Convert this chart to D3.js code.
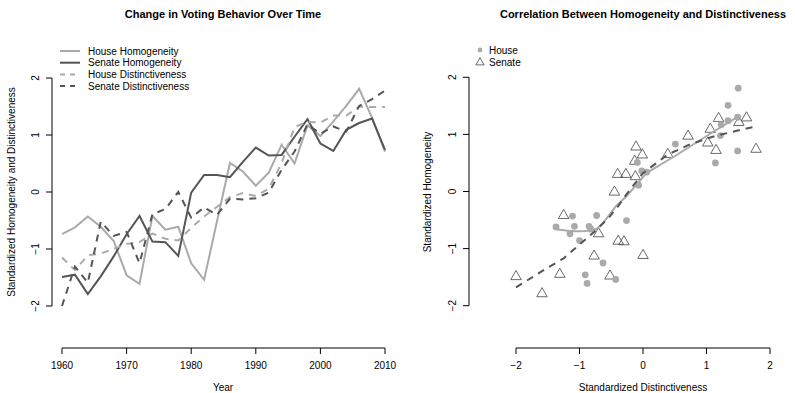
<!DOCTYPE html>
<html>
<head>
<meta charset="utf-8">
<script src="https://cdn.jsdelivr.net/npm/d3@7"></script>
<style>
body { margin: 0; background: #fff; }
svg { font-family: "Liberation Sans", Arial, Helvetica, sans-serif; }
</style>
</head>
<body>
<svg id="chart" width="795" height="393"></svg>
<script>
// standardized series, one value per election year
var years = [1960, 1962, 1964, 1966, 1968, 1970, 1972, 1974, 1976, 1978, 1980, 1982, 1984,
             1986, 1988, 1990, 1992, 1994, 1996, 1998, 2000, 2002, 2004, 2006, 2008, 2010];

var houseHomog = [-0.74, -0.62, -0.43, -0.61, -0.86, -1.46, -1.61, -0.42, -0.66, -0.61, -1.25, -1.54, -0.51,
                  0.51, 0.36, 0.11, 0.34, 0.83, 0.50, 1.17, 0.98, 1.24, 1.51, 1.81, 1.30, 0.71];
var senateHomog = [-1.49, -1.45, -1.79, -1.48, -1.13, -0.74, -0.42, -0.87, -0.88, -1.12, -0.01, 0.30, 0.30,
                   0.26, 0.53, 0.78, 0.64, 0.65, 0.97, 1.28, 0.85, 0.72, 1.09, 1.21, 1.29, 0.74];
var houseDistinct = [-1.15, -1.37, -1.11, -1.08, -1.00, -0.91, -0.88, -0.73, -0.82, -0.85, -0.63, -0.43, -0.26,
                     -0.09, -0.02, -0.07, 0.06, 0.51, 1.14, 1.23, 1.22, 1.34, 1.34, 1.50, 1.49, 1.49];
var senateDistinct = [-2.00, -1.31, -1.59, -0.52, -0.77, -0.70, -1.25, -0.39, -0.30, 0.00, -0.45, -0.27, -0.40,
                      -0.12, -0.13, -0.11, -0.01, 0.39, 0.71, 1.19, 1.02, 1.15, 1.06, 1.51, 1.63, 1.78];

var yearTicks = [1960, 1970, 1980, 1990, 2000, 2010];
var valueTicks = [-2, -1, 0, 1, 2];

var light = "#aaaaaa", dark = "#555555";

var series = [
    {name: "House Homogeneity", values: houseHomog, color: light, dash: null},
    {name: "Senate Homogeneity", values: senateHomog, color: dark, dash: null},
    {name: "House Distinctiveness", values: houseDistinct, color: light, dash: "7,6"},
    {name: "Senate Distinctiveness", values: senateDistinct, color: dark, dash: "7,6"}
];

var svg = d3.select("#chart");
var fmt = function(d) { return d < 0 ? "\u2212" + Math.abs(d) : String(d); };

// port of R's lowess (clowess), f = 2/3, 3 robustness iterations
function lowess(xIn, yIn, f, nsteps) {
    var order = d3.range(xIn.length).sort(function(a, b) { return xIn[a] - xIn[b]; });
    var n = order.length;
    var x = [0], y = [0];
    order.forEach(function(i) { x.push(xIn[i]); y.push(yIn[i]); });
    var ys = new Array(n + 1).fill(0), rw = new Array(n + 1).fill(0), w = new Array(n + 1).fill(0);
    var delta = 0.01 * (x[n] - x[1]);
    var ns = Math.max(2, Math.min(n, Math.floor(f * n + 1e-7)));
    var i, j;

    function lowest(xs, nleft, nright, userw) {
        var range = x[n] - x[1];
        var h = Math.max(xs - x[nleft], x[nright] - xs);
        var a = 0, k = nleft;
        while (k <= n) {
            w[k] = 0;
            var r = Math.abs(x[k] - xs);
            if (r <= 0.999 * h) {
                w[k] = r <= 0.001 * h ? 1 : Math.pow(1 - Math.pow(r / h, 3), 3);
                if (userw) w[k] *= rw[k];
                a += w[k];
            } else if (x[k] > xs) break;
            k++;
        }
        var nrt = k - 1;
        if (a <= 0) return null;
        for (k = nleft; k <= nrt; k++) w[k] /= a;
        if (h > 0) {
            a = 0;
            for (k = nleft; k <= nrt; k++) a += w[k] * x[k];
            var b = xs - a, c = 0;
            for (k = nleft; k <= nrt; k++) c += w[k] * (x[k] - a) * (x[k] - a);
            if (Math.sqrt(c) > 0.001 * range) {
                b /= c;
                for (k = nleft; k <= nrt; k++) w[k] *= (b * (x[k] - a) + 1);
            }
        }
        var s = 0;
        for (k = nleft; k <= nrt; k++) s += w[k] * y[k];
        return s;
    }

    for (var iter = 1; iter <= nsteps + 1; iter++) {
        var nleft = 1, nright = ns, last = 0;
        i = 1;
        for (;;) {
            if (nright < n) {
                if (x[i] - x[nleft] > x[nright + 1] - x[i]) { nleft++; nright++; continue; }
            }
            var v = lowest(x[i], nleft, nright, iter > 1);
            ys[i] = v === null ? y[i] : v;
            if (last < i - 1) {
                var denom = x[i] - x[last];
                for (j = last + 1; j < i; j++) {
                    var alpha = (x[j] - x[last]) / denom;
                    ys[j] = alpha * ys[i] + (1 - alpha) * ys[last];
                }
            }
            last = i;
            var cut = x[last] + delta;
            for (i = last + 1; i <= n; i++) {
                if (x[i] > cut) break;
                if (x[i] === x[last]) { ys[i] = ys[last]; last = i; }
            }
            i = Math.max(last + 1, i - 1);
            if (last >= n) break;
        }
        if (iter > nsteps) break;
        var absr = [];
        for (i = 1; i <= n; i++) absr.push(Math.abs(y[i] - ys[i]));
        var sorted = absr.slice().sort(d3.ascending);
        var m1 = Math.floor(n / 2);
        var cmad = n % 2 === 0 ? 3 * (sorted[m1] + sorted[n - m1 - 1]) : 6 * sorted[m1];
        if (cmad < 1e-7 * d3.mean(absr)) break;
        for (i = 1; i <= n; i++) {
            var r = absr[i - 1];
            rw[i] = r <= 0.001 * cmad ? 1 : (r <= 0.999 * cmad ? Math.pow(1 - Math.pow(r / cmad, 2), 2) : 0);
        }
    }
    return x.slice(1).map(function(xv, k) { return [xv, ys[k + 1]]; });
}

function yAxis(g, scale, xPos) {
    g.append("line")
        .attr("x1", xPos).attr("x2", xPos)
        .attr("y1", scale(valueTicks[0])).attr("y2", scale(valueTicks[valueTicks.length - 1]))
        .attr("stroke", "#000");
    var t = g.selectAll(".ytick").data(valueTicks).enter().append("g")
        .attr("transform", function(d) { return "translate(" + xPos + "," + scale(d) + ")"; });
    t.append("line").attr("x1", 0).attr("x2", -6).attr("stroke", "#000");
    t.append("text")
        .attr("transform", "translate(-13,0) rotate(-90)")
        .attr("text-anchor", "middle")
        .attr("font-size", 10)
        .text(fmt);
}

function xAxis(g, scale, ticks, yPos, label) {
    g.append("line")
        .attr("x1", scale(ticks[0])).attr("x2", scale(ticks[ticks.length - 1]))
        .attr("y1", yPos).attr("y2", yPos)
        .attr("stroke", "#000");
    var t = g.selectAll(".xtick").data(ticks).enter().append("g")
        .attr("transform", function(d) { return "translate(" + scale(d) + "," + yPos + ")"; });
    t.append("line").attr("y1", 0).attr("y2", 6).attr("stroke", "#000");
    t.append("text")
        .attr("y", 21)
        .attr("text-anchor", "middle")
        .attr("font-size", 10)
        .text(label || fmt);
}

// ---------- left panel: time series ----------
var xYear = d3.scaleLinear().domain([1960, 2010]).range([62, 385]);
var yVal = d3.scaleLinear().domain([-2, 2]).range([306, 78]);

var left = svg.append("g");

left.append("text")
    .attr("x", 223).attr("y", 18)
    .attr("text-anchor", "middle")
    .attr("font-size", 11).attr("font-weight", "bold")
    .text("Change in Voting Behavior Over Time");

yAxis(left, yVal, 52);
xAxis(left, xYear, yearTicks, 348, function(d) { return d; });

left.append("text")
    .attr("x", 223).attr("y", 391)
    .attr("text-anchor", "middle").attr("font-size", 10)
    .text("Year");
left.append("text")
    .attr("transform", "translate(15,192) rotate(-90)")
    .attr("text-anchor", "middle").attr("font-size", 10)
    .text("Standardized Homogeneity and Distinctiveness");

var line = d3.line()
    .x(function(d, i) { return xYear(years[i]); })
    .y(function(d) { return yVal(d); });

left.append("g").selectAll("path")
    .data(series)
    .enter().append("path")
    .attr("d", function(d) { return line(d.values); })
    .attr("fill", "none")
    .attr("stroke", function(d) { return d.color; })
    .attr("stroke-width", 2)
    .attr("stroke-dasharray", function(d) { return d.dash; });

var legend = left.append("g").selectAll("g")
    .data(series)
    .enter().append("g")
    .attr("transform", function(d, i) { return "translate(60," + (51 + i * 11.7) + ")"; });
legend.append("line")
    .attr("x1", 0).attr("x2", 20)
    .attr("stroke", function(d) { return d.color; })
    .attr("stroke-width", 2)
    .attr("stroke-dasharray", function(d) { return d.dash ? "5,5" : null; });
legend.append("text")
    .attr("x", 28).attr("dy", "0.35em")
    .attr("font-size", 10)
    .text(function(d) { return d.name; });

// ---------- right panel: scatter with lowess ----------
var xDist = d3.scaleLinear().domain([-2, 2]).range([516, 770]);
var yHom = d3.scaleLinear().domain([-2, 2]).range([305.7, 77.3]);

var right = svg.append("g");

right.append("text")
    .attr("x", 643).attr("y", 18)
    .attr("text-anchor", "middle")
    .attr("font-size", 11).attr("font-weight", "bold")
    .text("Correlation Between Homogeneity and Distinctiveness");

yAxis(right, yHom, 469);
xAxis(right, xDist, valueTicks, 348);

right.append("text")
    .attr("x", 643).attr("y", 391)
    .attr("text-anchor", "middle").attr("font-size", 10)
    .text("Standardized Distinctiveness");
right.append("text")
    .attr("transform", "translate(431,192) rotate(-90)")
    .attr("text-anchor", "middle").attr("font-size", 10)
    .text("Standardized Homogeneity");

var tri = d3.symbol().type(d3.symbolTriangle).size(48);

right.append("g").selectAll("path")
    .data(years)
    .enter().append("path")
    .attr("d", tri)
    .attr("transform", function(d, i) { return "translate(" + xDist(senateDistinct[i]) + "," + yHom(senateHomog[i]) + ")"; })
    .attr("fill", "none")
    .attr("stroke", "#444")
    .attr("stroke-width", 0.8);

right.append("g").selectAll("circle")
    .data(years)
    .enter().append("circle")
    .attr("cx", function(d, i) { return xDist(houseDistinct[i]); })
    .attr("cy", function(d, i) { return yHom(houseHomog[i]); })
    .attr("r", 3.4)
    .attr("fill", light);

var fitLine = d3.line()
    .x(function(d) { return xDist(d[0]); })
    .y(function(d) { return yHom(d[1]); });

right.append("path")
    .attr("d", fitLine(lowess(houseDistinct, houseHomog, 2 / 3, 3)))
    .attr("fill", "none").attr("stroke", light).attr("stroke-width", 2);
right.append("path")
    .attr("d", fitLine(lowess(senateDistinct, senateHomog, 2 / 3, 3)))
    .attr("fill", "none").attr("stroke", dark).attr("stroke-width", 2)
    .attr("stroke-dasharray", "7,6");

var pointLegend = right.append("g").attr("transform", "translate(480,50)");
pointLegend.append("circle").attr("r", 2.4).attr("fill", light);
pointLegend.append("path")
    .attr("d", d3.symbol().type(d3.symbolTriangle).size(30))
    .attr("transform", "translate(0,12.5)")
    .attr("fill", "none").attr("stroke", "#444").attr("stroke-width", 0.8);
pointLegend.append("text").attr("x", 9).attr("dy", "0.35em").attr("font-size", 10).text("House");
pointLegend.append("text").attr("x", 9).attr("y", 12).attr("dy", "0.35em").attr("font-size", 10).text("Senate");
</script>
</body>
</html>
